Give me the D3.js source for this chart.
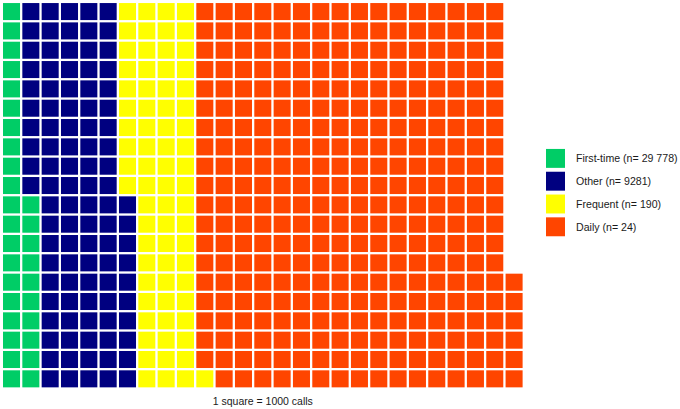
<!DOCTYPE html>
<html>
<head>
<meta charset="utf-8">
<script src="https://cdn.jsdelivr.net/npm/d3@7"></script>
<style>
  html, body { margin: 0; padding: 0; background: #ffffff; }
  svg { display: block; }
</style>
</head>
<body>
<svg id="chart" width="680" height="409"></svg>
<script>
// ---- data ----
const categories = ["First-time", "Other", "Frequent", "Daily"];
const legendLabels = ["First-time (n= 29 778)", "Other (n= 9281)", "Frequent (n= 190)", "Daily (n= 24)"];
const squares = [30, 100, 71, 325];
const colors = ["#00CD66", "#000080", "#FFFF00", "#FF4500"];
const nRows = 20;
const caption = "1 square = 1000 calls";

// ---- build cells (column-major, bottom to top) ----
const cells = [];
let idx = 0;
categories.forEach((c, ci) => {
  for (let k = 0; k < squares[ci]; k++) {
    cells.push({ cat: c, col: Math.floor(idx / nRows), row: idx % nRows });
    idx++;
  }
});
const nCols = Math.ceil(idx / nRows);

const svg = d3.select("#chart");
const pitch = 19.33;
const gap = 2.3;
const x0 = 1.85, yBottom = 388.5;

const x = d3.scaleBand()
  .domain(d3.range(nCols))
  .range([x0, x0 + pitch * nCols])
  .paddingInner(gap / pitch)
  .paddingOuter(gap / pitch / 2);
const y = d3.scaleBand()
  .domain(d3.range(nRows))
  .range([yBottom, yBottom - pitch * nRows])
  .paddingInner(gap / pitch)
  .paddingOuter(gap / pitch / 2);
const color = d3.scaleOrdinal().domain(categories).range(colors);

svg.append("g").selectAll("rect")
  .data(cells)
  .join("rect")
  .attr("x", d => x(d.col))
  .attr("y", d => y(d.row))
  .attr("width", x.bandwidth())
  .attr("height", y.bandwidth())
  .attr("fill", d => color(d.cat));

// caption
const gridMid = (x0 + x0 + pitch * nCols) / 2;
svg.append("text")
  .attr("x", gridMid)
  .attr("y", 405)
  .attr("text-anchor", "middle")
  .attr("font-family", "Liberation Sans, Arial, sans-serif")
  .attr("font-size", 10.5)
  .attr("fill", "#1a1a1a")
  .text(caption);

// legend
const legY = d3.scaleBand().domain(categories).range([147, 147 + 22.8 * 4]).paddingInner(0.17).paddingOuter(0.085);
const lg = svg.append("g");
const items = lg.selectAll("g").data(categories).join("g");
items.append("rect")
  .attr("x", 546)
  .attr("y", d => legY(d))
  .attr("width", 19)
  .attr("height", legY.bandwidth())
  .attr("fill", d => color(d));
items.append("text")
  .attr("x", 576)
  .attr("y", d => legY(d) + legY.bandwidth() / 2 + 4)
  .attr("font-family", "Liberation Sans, Arial, sans-serif")
  .attr("font-size", 10.6)
  .attr("fill", "#1a1a1a")
  .text((d, i) => legendLabels[i]);
</script>
</body>
</html>
